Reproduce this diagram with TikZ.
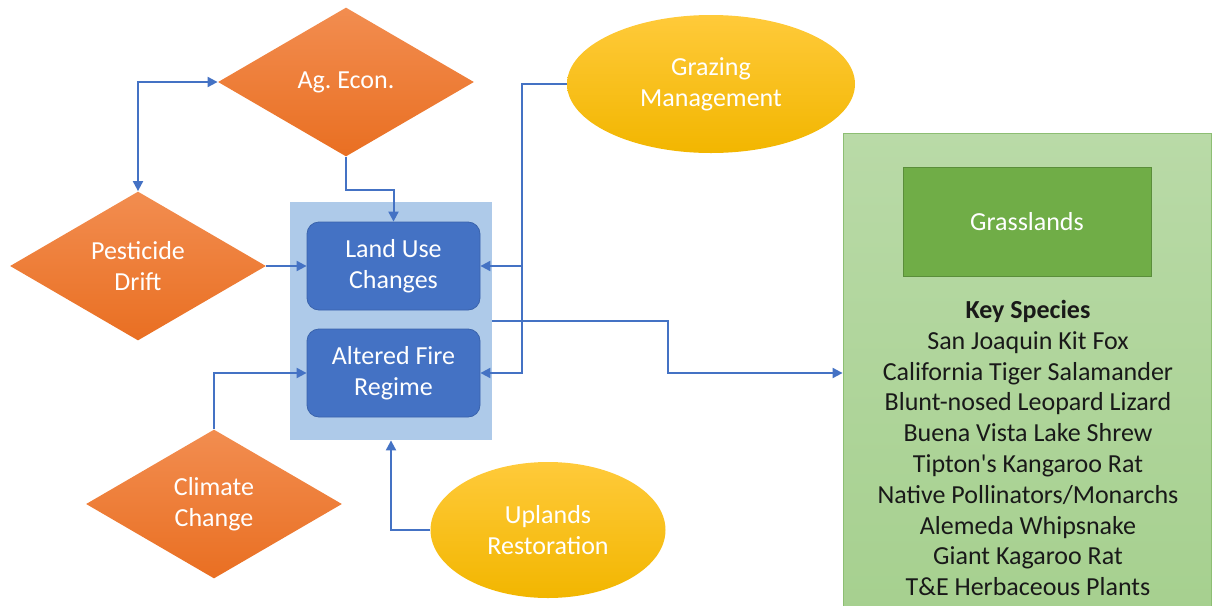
\documentclass[tikz,border=0pt]{standalone}
\usepackage{fontspec}
\setmainfont{Carlito}
\usetikzlibrary{shapes.geometric,arrows.meta}

\definecolor{riskTop}{HTML}{F28D50}
\definecolor{riskBot}{HTML}{E96F22}
\definecolor{stressBlue}{HTML}{4472C4}
\definecolor{stressLine}{HTML}{3A63AC}
\definecolor{hubBlue}{HTML}{AECAE9}
\definecolor{actTop}{HTML}{FFCA3A}
\definecolor{actBot}{HTML}{F2B600}
\definecolor{habTop}{HTML}{B9DAA7}
\definecolor{habBot}{HTML}{A6D08F}
\definecolor{habLine}{HTML}{8DBE73}
\definecolor{grassGreen}{HTML}{70AD47}
\definecolor{grassLine}{HTML}{5A8E3A}
\definecolor{linkBlue}{HTML}{4472C4}

\begin{document}
\begin{tikzpicture}[x=0.5pt,y=-0.5pt,
 txt/.style={align=center, font=\fontsize{13}{15.5}\selectfont},
 risk/.style={txt, diamond, aspect=1.72, inner sep=0pt, minimum width=128pt,
   minimum height=74.5pt, top color=riskTop, bottom color=riskBot, text=white},
 stress/.style={txt, rectangle, rounded corners=6pt, minimum width=86.5pt,
   minimum height=44pt, fill=stressBlue, draw=stressLine, text=white},
 action/.style={txt, ellipse, inner sep=0pt, top color=actTop, bottom color=actBot,
   text=white},
 link/.style={draw=linkBlue, line width=1pt, -{Triangle[length=5pt,width=5pt]}}]
%\draw[help lines] (0,0) grid[step=50] (1212,606);
\useasboundingbox (0,0) rectangle (1212,606);
\clip (0,0) rectangle (1212,606);

 \node[risk] (agecon) at (346,82) {Ag.\ Econ.};
 \node[risk] (pest) at (138,266) {Pesticide\\Drift};
 \node[risk] (climate) at (214,504) {Climate\\Change};

 \node[rectangle, fill=hubBlue, minimum width=101pt, minimum height=119pt] (hub) at (391,321) {};
 \node[stress] (landuse) at (393.5,266) {Land Use\\Changes};
 \node[stress] (fire) at (393.5,373) {Altered Fire\\Regime};

 \node[action, minimum width=144pt, minimum height=69pt] (grazing) at (711,84) {Grazing\\Management};
 \node[action, minimum width=117.5pt, minimum height=68pt] (uplands) at (548,530) {Uplands\\Restoration};

 \node[rectangle, top color=habTop, bottom color=habBot, draw=habLine,
   minimum width=184pt, minimum height=240pt] (greenbox) at (1027,373) {};
 \node[txt, rectangle, fill=grassGreen, draw=grassLine, text=white,
   minimum width=124pt, minimum height=54.5pt] (grass) at (1027,221.5) {Grasslands};
 \node[txt, text=black!90, font=\fontsize{13}{15.4}\selectfont] (species) at (1028,448)
   {\textbf{Key Species}\\San Joaquin Kit Fox\\California Tiger Salamander\\
    Blunt-nosed Leopard Lizard\\Buena Vista Lake Shrew\\Tipton\textquotesingle s Kangaroo Rat\\
    Native Pollinators/Monarchs\\Alemeda Whipsnake\\Giant Kagaroo Rat\\
    T\&E Herbaceous Plants};

 \draw[link, {Triangle[length=5pt,width=5pt]}-{Triangle[length=5pt,width=5pt]}]
   (pest.north) |- (agecon.west);
 \draw[link] (agecon.south) -- ++(0,33) -| (landuse.north);
 \draw[link] (pest.east) -- (landuse.west);
 \draw[link] (climate.north) |- (fire.west);
 \draw[link] (grazing.west) -- ++(-45,0) |- (landuse.east);
 \draw[link] (grazing.west) -- ++(-45,0) |- (fire.east);
 \draw[link] (uplands.west) -| (hub.south);
 \draw[link] (hub.east) -- ++(176,0) |- (greenbox.west);

\end{tikzpicture}
\end{document}
